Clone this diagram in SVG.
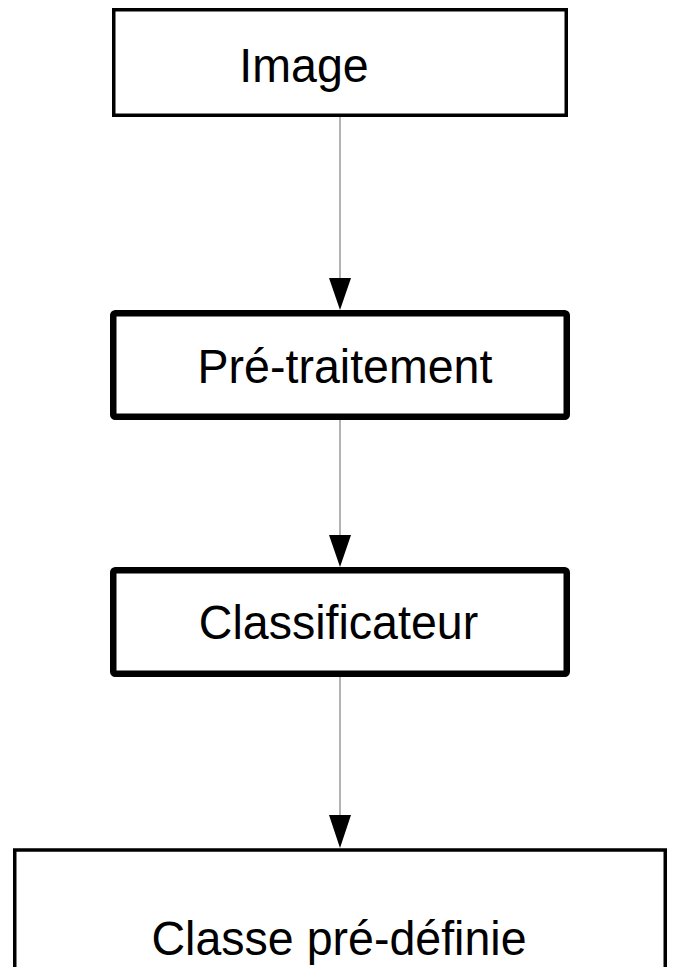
<svg xmlns="http://www.w3.org/2000/svg" width="674" height="967" viewBox="0 0 674 967">
<style>
  .box { fill: #ffffff; stroke: #000000; }
  .thin { stroke-width: 3.5; }
  .thick { stroke-width: 6.5; }
  .label { font-family: "Liberation Sans", Arial, sans-serif; font-size: 49px; fill: #000000; text-anchor: middle; }
  .conn { stroke: #808080; stroke-width: 1.2; fill: none; }
  .head { fill: #000000; stroke: none; }
</style>
<rect x="0" y="0" width="674" height="967" fill="#ffffff"/>
<g id="connectors">
  <line class="conn" x1="340" y1="117" x2="340" y2="280"/>
  <polygon class="head" points="329,278 351,278 340,310"/>
  <line class="conn" x1="340" y1="420" x2="340" y2="537"/>
  <polygon class="head" points="329,535 351,535 340,567"/>
  <line class="conn" x1="340" y1="677" x2="340" y2="817"/>
  <polygon class="head" points="329,815 351,815 340,848"/>
</g>
<g id="node-image">
  <rect class="box thin" x="113.75" y="9.75" width="452.5" height="105.5"/>
  <text class="label" transform="translate(304,82) scale(0.95,1)">Image</text>
</g>
<g id="node-pretraitement">
  <rect class="box thick" x="113.25" y="313.25" width="453.5" height="103.5" rx="2"/>
  <text class="label" transform="translate(345,383) scale(0.95,1)">Pré-traitement</text>
</g>
<g id="node-classificateur">
  <rect class="box thick" x="113.25" y="570.25" width="453.5" height="103.5" rx="2"/>
  <text class="label" transform="translate(338.5,639) scale(0.95,1)">Classificateur</text>
</g>
<g id="node-classe">
  <rect class="box thin" x="14.75" y="850" width="650.5" height="140"/>
  <text class="label" transform="translate(339,955) scale(0.95,1)">Classe pré-définie</text>
</g>
</svg>
